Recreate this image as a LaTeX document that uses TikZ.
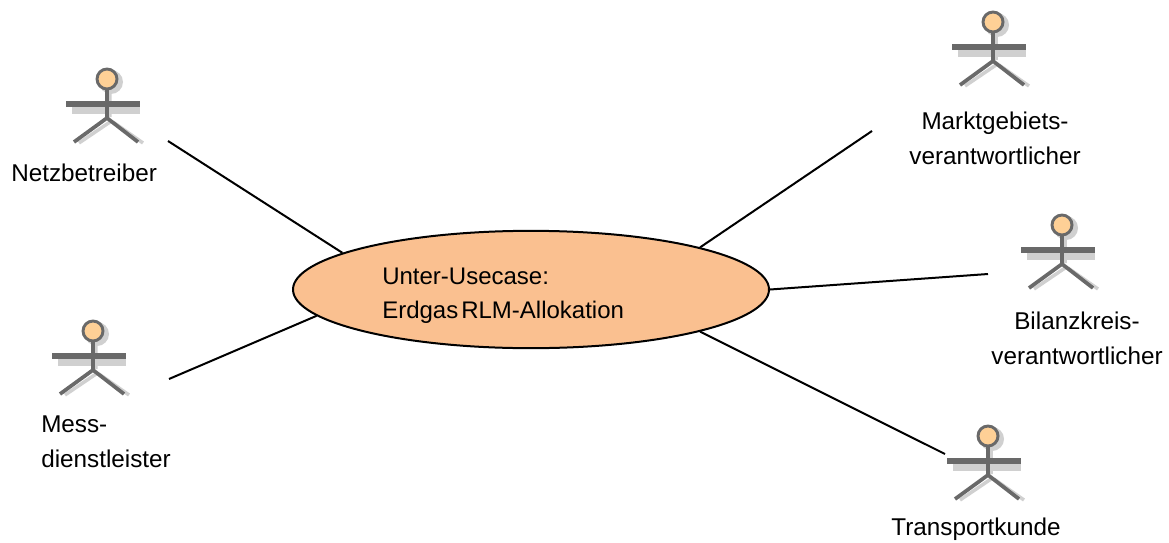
\documentclass[tikz,border=0pt]{standalone}
\usepackage{fontspec}
\setmainfont{Liberation Sans}
\newfontfamily\tightfont[WordSpace=0.45]{Liberation Sans}
\usetikzlibrary{shapes.geometric}
\definecolor{ucfill}{RGB}{250,192,144}
\definecolor{headfill}{RGB}{254,208,150}
\definecolor{actline}{RGB}{105,105,105}
\definecolor{actshadow}{RGB}{208,208,208}
\tikzset{
  lbl/.style={font=\fontsize{18.2pt}{26pt}\selectfont, align=left, inner sep=0pt, anchor=west},
  conn/.style={draw=black, line width=1.5pt},
  usecase/.style={ellipse, draw=black, line width=1.5pt, fill=ucfill, minimum width=357pt, minimum height=88pt, inner sep=0pt},
  pics/actor/.style={code={
    \fill[actshadow] (-35,27) rectangle (33,35);
    \draw[actshadow, line width=2.6pt] (-28,64)--(3,43) (6,43)--(36,64) (3,10)--(3,38);
    \fill[actshadow] (4,3) circle[radius=12];
    \draw[actline, line width=4.2pt] (-41,25)--(33,25);
    \draw[actline, line width=3.4pt] (0,10)--(0,39);
    \draw[actline, line width=2.8pt] (0,39)--(-33,63) (0,39)--(31,63);
    \draw[actline, fill=headfill, line width=2.2pt] (0,0) circle[radius=10];
  }}
}
\begin{document}
\begin{tikzpicture}[x=0.75pt,y=-0.75pt]
\useasboundingbox (0,0) rectangle (1169,542);
\coordinate (c1) at (168,141);
\coordinate (c2) at (169,379);
\coordinate (c3) at (872,131);
\coordinate (c4) at (988,274);
\coordinate (c5) at (945,454);
\node[usecase] (uc) at (531,289.5) {};
\draw[conn] (c1) -- (uc.169.8);
\draw[conn] (c2) -- (uc.187.1);
\draw[conn] (c3) -- (uc.14.2);
\draw[conn] (c4) -- (uc.0);
\draw[conn] (c5) -- (uc.346);
\node[lbl, font=\fontsize{18pt}{25.5pt}\selectfont\tightfont] (uct) at (382,295.5) {Unter-Usecase:\\Erdgas RLM-Allokation};
\pic (a1) at (107,79) {actor};
\pic (a2) at (93,331) {actor};
\pic (a3) at (993,22) {actor};
\pic (a4) at (1062,225) {actor};
\pic (a5) at (988,436) {actor};
\node[lbl] (t1) at (11,173) {Netzbetreiber};
\node[lbl] (t2) at (41,442) {Mess-\\dienstleister};
\node[lbl,align=center,anchor=center] (t3) at (995,138) {Marktgebiets-\\verantwortlicher};
\node[lbl,align=center,anchor=center] (t4) at (1077,338) {Bilanzkreis-\\verantwortlicher};
\node[lbl,anchor=center] (t5) at (976,529) {Transportkunde};
\end{tikzpicture}
\end{document}
